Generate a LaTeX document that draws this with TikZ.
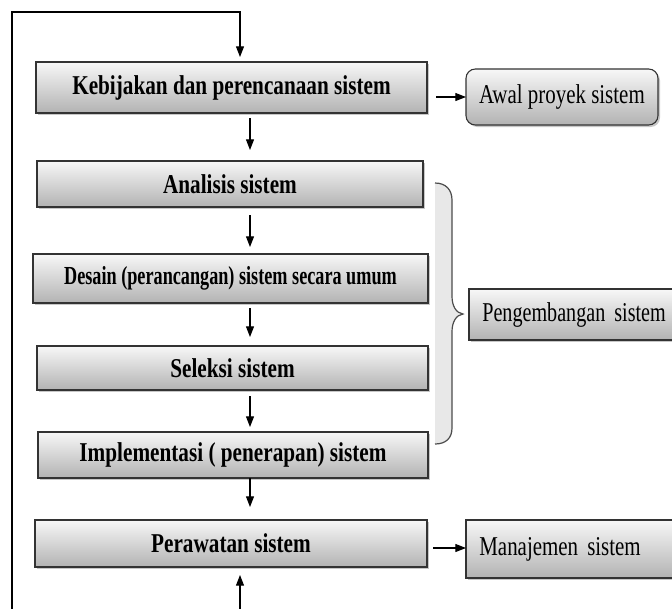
\documentclass[tikz,border=0pt]{standalone}
\usepackage{fontspec}
\setmainfont{Liberation Serif}
% narrow, tall lettering used in the boxes
\newfontfamily\stagefont[FakeStretch=0.78]{Liberation Serif}
\newfontfamily\designfont[FakeStretch=0.70]{Liberation Serif}
\newfontfamily\notefont[FakeStretch=0.77]{Liberation Serif}
\newfontfamily\tightnotefont[FakeStretch=0.74]{Liberation Serif}
\usetikzlibrary{arrows.meta,shadows}
\begin{document}
\begin{tikzpicture}[x=0.75pt,y=-0.75pt,
  stage/.style={draw=black!80, line width=0.8pt, top color=black!3, bottom color=black!30,
    inner sep=0pt, outer sep=0pt, font=\stagefont\fontsize{20.4}{24}\selectfont\bfseries,
    drop shadow={shadow xshift=1.5pt,shadow yshift=-1.5pt,fill=black,opacity=0.22}},
  note/.style={stage, font=\notefont\fontsize{20.4}{24}\selectfont},
  sidenote/.style={note, align=left, inner xsep=10pt},
  arr/.style={-{Triangle[length=8pt,width=6pt]}, line width=0.8pt, black},
  brace/.style={draw=black!70, line width=0.9pt},
]
\useasboundingbox (0,0) rectangle (672,608);
\clip (0,0) rectangle (672,608);

% main life-cycle stages
\node[stage, minimum width=293.25pt, minimum height=38.25pt] (plan) at (231.5,87.5) {Kebijakan dan perencanaan sistem};
\node[stage, minimum width=289.5pt, minimum height=34.5pt] (anal) at (230,184) {Analisis sistem};
\node[stage, minimum width=296.25pt, minimum height=36.75pt, font=\designfont\fontsize{19.5}{23}\selectfont\bfseries] (desn) at (230.5,278.5) {Desain (perancangan) sistem secara umum};
\node[stage, minimum width=293.25pt, minimum height=33pt] (selk) at (232.5,368) {Seleksi sistem};
\node[stage, minimum width=292.5pt, minimum height=34.5pt] (impl) at (233,455) {Implementasi ( penerapan) sistem};
\node[stage, minimum width=294pt, minimum height=35.25pt] (rawt) at (231,543.5) {Perawatan sistem};

% side notes
\node[note, rounded corners=7pt, minimum width=144pt, minimum height=42pt] (awal) at (562,97) {Awal proyek sistem};
\node[sidenote, text width=145.75pt, minimum height=38.25pt, font=\tightnotefont\fontsize{20.4}{24}\selectfont] (peng) at (579.5,314.5) {Pengembangan sistem};
\node[sidenote, text width=148pt, minimum height=43.5pt] (mnjm) at (578,549) {Manajemen sistem};

% brace grouping the development stages
\fill[black!9] (435,183) .. controls (446,183) and (452,190) .. (452,200) -- (452,296)
  .. controls (452,306) and (456,313) .. (463,314)
  .. controls (456,315) and (452,322) .. (452,332) -- (452,428)
  .. controls (452,438) and (446,444) .. (435,444) -- cycle;
\draw[brace] (435,183) .. controls (446,183) and (452,190) .. (452,200) -- (452,296)
  .. controls (452,306) and (456,313) .. (463,314)
  .. controls (456,315) and (452,322) .. (452,332) -- (452,428)
  .. controls (452,438) and (446,444) .. (435,444);

% flow between stages
\coordinate (ax) at (250,0);
\draw[arr, shorten <=3.75pt, shorten >=8.25pt] (plan.south -| ax) -- (anal.north -| ax);
\draw[arr, shorten <=6pt, shorten >=5.25pt] (anal.south -| ax) -- (desn.north -| ax);
\draw[arr, shorten <=3.75pt, shorten >=6.75pt] (desn.south -| ax) -- (selk.north -| ax);
\draw[arr, shorten <=4.5pt, shorten >=3.75pt] (selk.south -| ax) -- (impl.north -| ax);
\draw[arr, shorten >=9.75pt] (impl.south -| ax) -- (rawt.north -| ax);

% arrows to side notes
\coordinate (ay) at (0,548);
\draw[arr, shorten <=6.75pt] (plan.east |- awal.west) -- (awal.west);
\draw[arr, shorten <=4.5pt] (rawt.east |- ay) -- (mnjm.west |- ay);

% feedback loop
\coordinate (fbl) at (12,612);
\coordinate (fbc) at (12,12);
\coordinate (fbt) at (240,12);
\coordinate (fbb) at (240,612);
\draw[arr, shorten >=3.75pt] (fbl) -- (fbc) -- (fbt) -- (fbt |- plan.north);
\draw[arr, shorten >=6pt] (fbb) -- (fbb |- rawt.south);
\end{tikzpicture}
\end{document}
